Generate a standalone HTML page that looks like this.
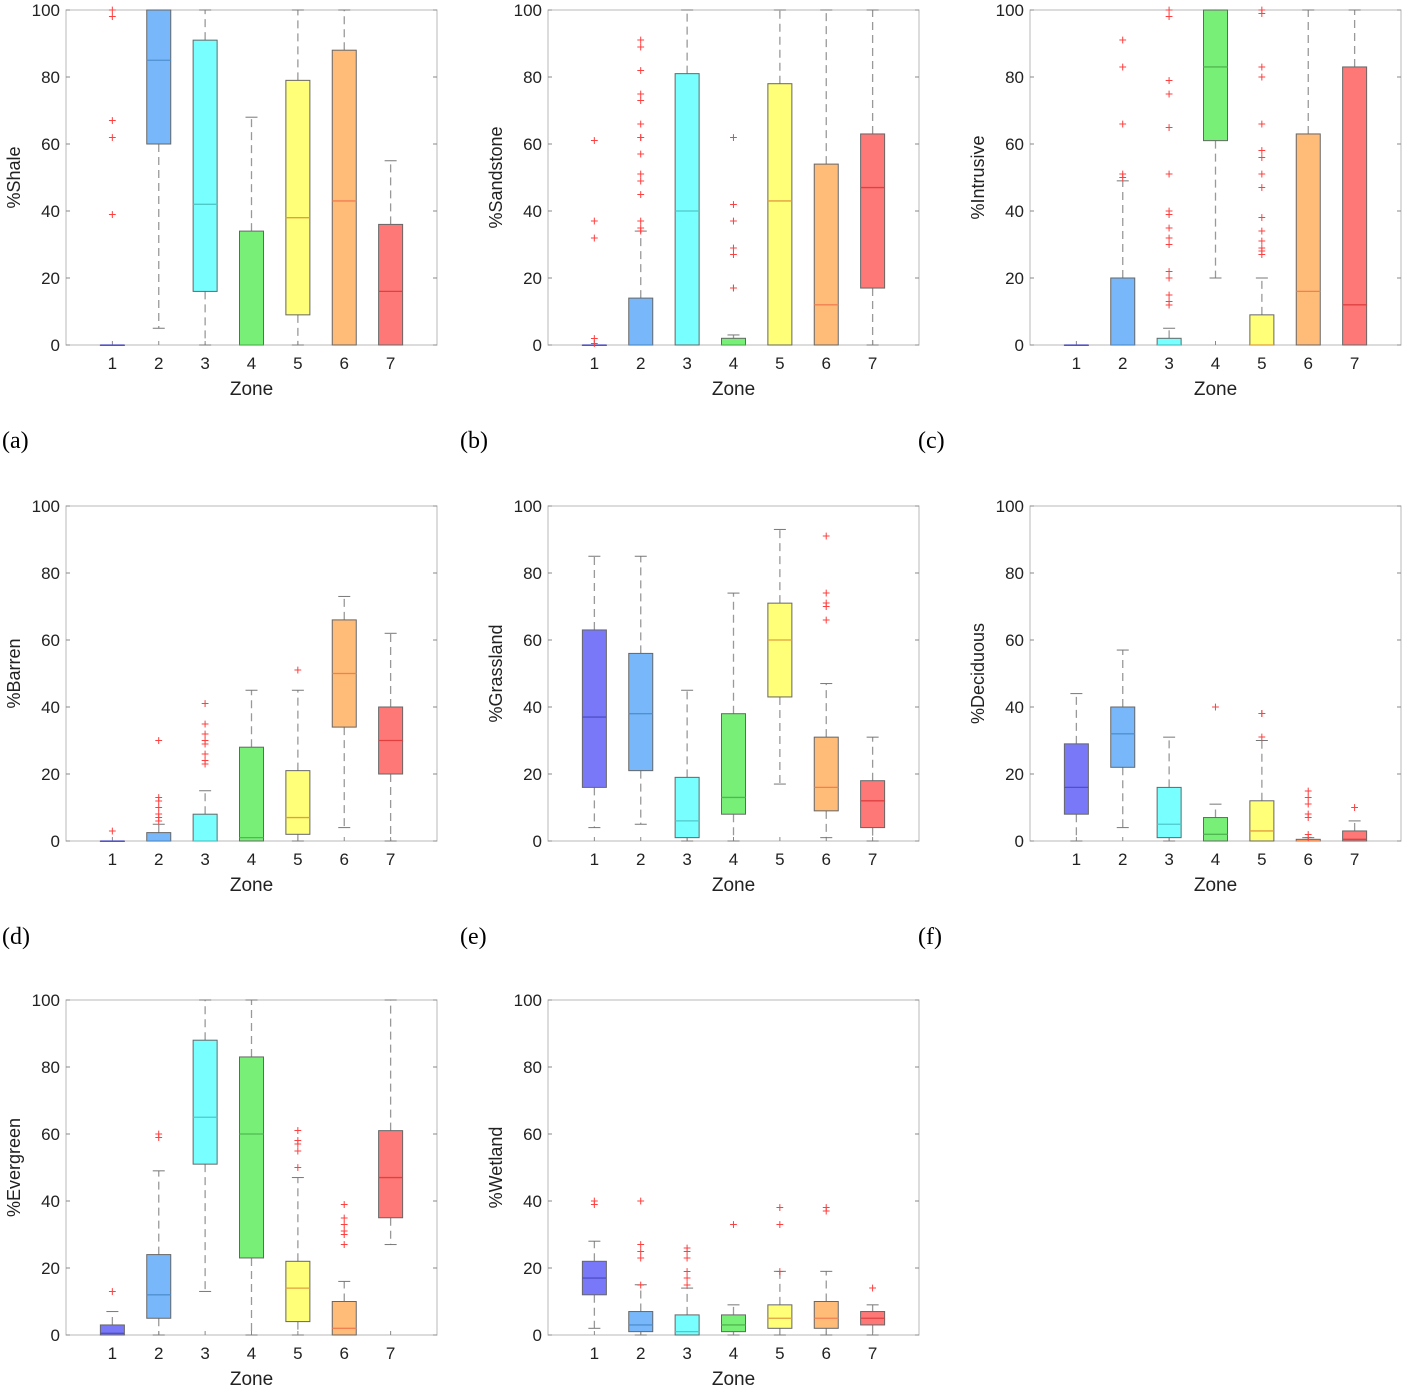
<!DOCTYPE html>
<html><head><meta charset="utf-8">
<style>
html,body{margin:0;padding:0;background:#fff;}
svg{display:block;font-family:"Liberation Sans",Arial,sans-serif;}
</style></head>
<body>
<svg id="fig" width="1406" height="1388" viewBox="0 0 1406 1388" xmlns="http://www.w3.org/2000/svg"></svg>
<script>
// Zone categories
const zones = [1,2,3,4,5,6,7];
const yTicks = [0,20,40,60,80,100];
const panelTitles = ["%Shale","%Sandstone","%Intrusive","%Barren","%Grassland","%Deciduous","%Evergreen","%Wetland"];
const panelLetters = ["(a)","(b)","(c)","(d)","(e)","(f)","",""];
// Per panel stats: each zone [q1, median, q3, whiskerLow, whiskerHigh]
const shaleStats = [[0,0,0,0,0],[60,85,100,5,100],[16,42,91,0,100],[0,0,34,0,68],[9,38,79,0,100],[0,43,88,0,100],[0,16,36,0,55]];
const shaleOut = [[100,98,67,62,39],[],[],[],[],[],[]];
const sandStats = [[0,0,0,0,0],[0,0,14,0,34],[0,40,81,0,100],[0,0,2,0,3],[0,43,78,0,100],[0,12,54,0,100],[17,47,63,0,100]];
const sandOut = [[61,37,32,2,0.5],[91,89,82,75,73,66,62,62,57,51,49,45,37,35,34],[],[62,42,37,29,27,17,17],[],[],[]];
const intrStats = [[0,0,0,0,0],[0,0,20,0,49],[0,0,2,0,5],[61,83,100,20,100],[0,0,9,0,20],[0,16,63,0,100],[0,12,83,0,100]];
const intrOut = [[],[91,83,66,51,50],[100,98,79,75,65,51,40,39,35,32,30,22,20,15,13,12],[],[100,99,83,80,66,58,56,51,47,38,34,31,29,28,27],[],[]];
const barrStats = [[0,0,0,0,0],[0,0,2.5,0,5],[0,0,8,0,15],[0,1,28,0,45],[2,7,21,0,45],[34,50,66,4,73],[20,30,40,0,62]];
const barrOut = [[3],[30,13,12,10,8,7,6],[41,35,32,30,29,26,24,23],[],[51],[],[]];
const grasStats = [[16,37,63,4,85],[21,38,56,5,85],[1,6,19,0,45],[8,13,38,0,74],[43,60,71,17,93],[9,16,31,1,47],[4,12,18,0,31]];
const grasOut = [[],[],[],[],[],[91,74,71,70,66],[]];
const deciStats = [[8,16,29,0,44],[22,32,40,4,57],[1,5,16,0,31],[0,2,7,0,11],[0,3,12,0,30],[0,0,0.5,0,1],[0,0.5,3,0,6]];
const deciOut = [[],[],[],[40],[38,38,31],[15,13,11,8,7,2,1],[10]];
const everStats = [[0,0.5,3,0,7],[5,12,24,0,49],[51,65,88,13,100],[23,60,83,0,100],[4,14,22,0,47],[0,2,10,0,16],[35,47,61,27,100]];
const everOut = [[13],[60,59],[],[],[61,58,57,55,50],[39,35,33,31,30,27],[]];
const wetlStats = [[12,17,22,2,28],[1,3,7,0,15],[0,1,6,0,14],[1,3,6,0,9],[2,5,9,0,19],[2,5,10,0,19],[3,5,7,0,9]];
const wetlOut = [[40,39],[40,27,25,23,15],[26,25,23,19,17,15],[33],[38,33,19],[38,37],[14]];
const allStats = [shaleStats,sandStats,intrStats,barrStats,grasStats,deciStats,everStats,wetlStats];
const allOut = [shaleOut,sandOut,intrOut,barrOut,grasOut,deciOut,everOut,wetlOut];
const fills = ["#7878f8","#78b8fa","#78ffff","#78f078","#ffff78","#ffbb78","#ff7878"];
const medCols = ["#5050c8","#5090d0","#50c8c8","#50b850","#e0a040","#f08050","#e04040"];

const svg = document.getElementById('fig');
const NS = "http://www.w3.org/2000/svg";
function mk(tag, attrs, parent){ const e=document.createElementNS(NS,tag); for(const k in attrs) e.setAttribute(k,attrs[k]); (parent||svg).appendChild(e); return e; }

const colX = [66,548,1030], rowY = [10,506,1000];
const W = 371, H = 335;

allStats.forEach((stats,p)=>{
  const ox = colX[p%3], oy = rowY[Math.floor(p/3)];
  const g = mk('g',{});
  
  
  const xs = z => ox + z*W/8;
  const ys = v => oy + H - v*H/100;
  const frame = mk('rect',{x:ox,y:oy,width:W,height:H,fill:'none',stroke:'#b8b8b8','stroke-width':1},g);
   
  yTicks.forEach(t=>{
    mk('line',{x1:ox,x2:ox+4,y1:ys(t),y2:ys(t),stroke:'#888'},g);
    mk('line',{x1:ox+W-4,x2:ox+W,y1:ys(t),y2:ys(t),stroke:'#888'},g);
    const tx = mk('text',{x:ox-6,y:ys(t)+6,'text-anchor':'end','font-size':17,fill:'#222'},g);
    tx.textContent=t;
     
  });
  zones.forEach((z,i)=>{
    mk('line',{x1:xs(z),x2:xs(z),y1:oy+H,y2:oy+H-4,stroke:'#888'},g);
    const tx = mk('text',{x:xs(z),y:oy+H+24,'text-anchor':'middle','font-size':17,fill:'#222'},g);
    tx.textContent=z;
     
    const [q1,md,q3,wl,wh] = stats[i];
    const cx = xs(z), bw = 24;
    mk('line',{x1:cx,x2:cx,y1:ys(q3),y2:ys(wh),stroke:'#999','stroke-dasharray':'8 5','stroke-width':1.3},g);
    mk('line',{x1:cx,x2:cx,y1:ys(q1),y2:ys(wl),stroke:'#999','stroke-dasharray':'8 5','stroke-width':1.3},g);
    mk('line',{x1:cx-6,x2:cx+6,y1:ys(wh),y2:ys(wh),stroke:'#777'},g);
    mk('line',{x1:cx-6,x2:cx+6,y1:ys(wl),y2:ys(wl),stroke:'#777'},g);
    const b = mk('rect',{x:cx-bw/2,y:ys(q3),width:bw,height:Math.max(0.5,ys(q1)-ys(q3)),fill:fills[i],stroke:'#666','stroke-width':1},g);
     
    mk('line',{x1:cx-bw/2,x2:cx+bw/2,y1:ys(md),y2:ys(md),stroke:medCols[i],'stroke-width':1.3},g);
    allOut[p][i].forEach(v=>{
      const o = mk('text',{x:cx,y:ys(v)+4.5,'text-anchor':'middle','font-size':14,fill:'#ff4040'},g);
      o.textContent='+';
       
    });
  });
  const xl = mk('text',{x:ox+W/2,y:oy+H+50,'text-anchor':'middle','font-size':19,fill:'#222'},g);
  xl.textContent='Zone';
   
  const yl = mk('text',{x:0,y:0,'text-anchor':'middle','font-size':18,fill:'#222',transform:`translate(${ox-46},${oy+H/2}) rotate(-90)`},g);
  yl.textContent=panelTitles[p];
   
  if(panelLetters[p]){
    const lx = [2,460,918][p%3];
    const lt = mk('text',{x:lx,y:oy+H+103,'font-size':24,fill:'#000','font-family':'"Liberation Serif",serif'},g);
    lt.textContent=panelLetters[p];
     
  }
});
</script>
</body></html>
